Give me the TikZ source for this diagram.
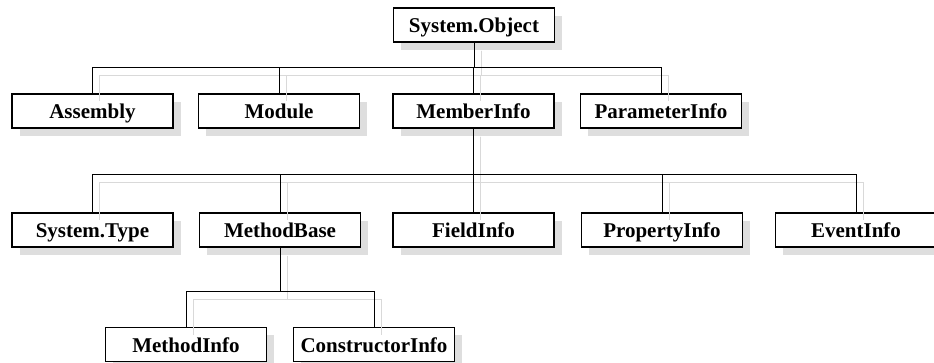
\documentclass[tikz,border=0pt]{standalone}
\usepackage{fontspec}
\setmainfont{Liberation Serif}
\usetikzlibrary{shadows}
\begin{document}
\begin{tikzpicture}[x=1pt,y=-1pt,
  cls/.style={draw=black, line width=1.1pt, fill=white, minimum width=161pt,
    minimum height=34pt, inner sep=0pt, text height=15pt, text depth=0pt,
    font=\fontsize{21}{22}\selectfont\bfseries,
    general shadow={fill=black!13, shadow xshift=7.5pt, shadow yshift=-7.5pt}},
  link/.style={draw=black, line width=0.9pt},
  linkshade/.style={draw=black!15, line width=0.9pt}]
\useasboundingbox (0,0) rectangle (934,362);

% class boxes
\node[cls] (obj)   at (474,25)    {System.Object};
\node[cls] (asm)   at (92.5,111)  {Assembly};
\node[cls] (mod)   at (279,111)   {Module};
\node[cls] (mem)   at (473.5,111) {MemberInfo};
\node[cls] (par)   at (661,111)   {ParameterInfo};
\node[cls] (typ)   at (92.5,230)  {System.Type};
\node[cls] (mb)    at (280,230)   {MethodBase};
\node[cls] (fld)   at (473.5,230) {FieldInfo};
\node[cls] (prop)  at (662,230)   {PropertyInfo};
\node[cls] (evt)   at (856,230)   {EventInfo};
\node[cls] (meth)  at (186,344.5) {MethodInfo};
\node[cls] (ctor)  at (374,344.5) {ConstructorInfo};

% bus levels
\coordinate (b1) at (0,67);
\coordinate (b2) at (0,174);
\coordinate (b3) at (0,291);

% connector shadows, offset down-right and running into the box tops
\begin{scope}[transform canvas={shift={(7pt,-8pt)}}]
  \foreach \c in {asm,mod,mem,par}
    \path[linkshade] (obj.south) |- (\c.north |- b1) -- (\c.north);
  \foreach \c in {typ,mb,fld,prop,evt}
    \path[linkshade] (mem.south) |- (\c.north |- b2) -- (\c.north);
  \foreach \c in {meth,ctor}
    \path[linkshade] (mb.south) |- (\c.north |- b3) -- (\c.north);
\end{scope}

% connectors
\foreach \c in {asm,mod,mem,par}
  \path[link] (obj.south) |- (\c.north |- b1) -- (\c.north);
\foreach \c in {typ,mb,fld,prop,evt}
  \path[link] (mem.south) |- (\c.north |- b2) -- (\c.north);
\foreach \c in {meth,ctor}
  \path[link] (mb.south) |- (\c.north |- b3) -- (\c.north);
\end{tikzpicture}
\end{document}
